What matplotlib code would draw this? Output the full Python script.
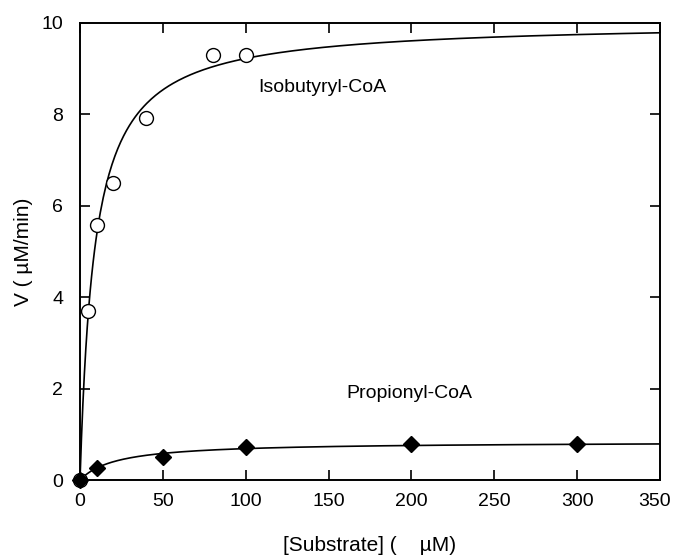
import numpy as np
import matplotlib
matplotlib.use('Agg')
import matplotlib.pyplot as plt
from matplotlib.transforms import ScaledTranslation

plt.rcParams['font.family'] = ['Liberation Sans', 'DejaVu Sans']

# measured rates
iso_s = [0, 5, 10, 20, 40, 80, 100]
iso_v = [0, 3.7, 5.58, 6.5, 7.92, 9.3, 9.3]
pro_s = [0, 10, 50, 100, 200, 300]
pro_v = [0, 0.26, 0.51, 0.73, 0.78, 0.79]

# Michaelis-Menten fit parameters (Vmax, Km)
iso_fit = (10.03, 8.74)
pro_fit = (0.84, 22.0)

xticks = [0, 50, 100, 150, 200, 250, 300, 350]
yticks = [0, 2, 4, 6, 8, 10]

fig = plt.figure(figsize=(6.74, 5.55), dpi=100)
ax = fig.add_axes([0.1187, 0.135, 0.8605, 0.8236])

s = np.linspace(0, 350, 400)
for vmax, km in (iso_fit, pro_fit):
    ax.plot(s, vmax * s / (km + s), color='black', lw=1.2)

ax.plot(iso_s, iso_v, 'o', mfc='white', mec='black', mew=1.0, ms=10,
        clip_on=False, zorder=3)
ax.plot(pro_s, pro_v, 'D', color='black', ms=8.5, clip_on=False, zorder=4)

ax.text(146, 8.58, 'Isobutyryl-CoA', ha='center', va='center', fontsize=14)
ax.text(199, 1.9, 'Propionyl-CoA', ha='center', va='center', fontsize=14)

ax.set_xlim(0, 350)
ax.set_ylim(0, 10)
ax.set_xticks(xticks)
ax.set_yticks(yticks)
ax.tick_params(direction='in', length=7, width=1.2, labelsize=14,
               top=True, right=True)
ax.tick_params(axis='x', pad=9)
ax.tick_params(axis='y', pad=12)
for sp in ax.spines.values():
    sp.set_linewidth(1.4)

# pull the last x label in so it stays inside the figure
last = ax.get_xticklabels()[-1]
last.set_transform(last.get_transform() +
                   ScaledTranslation(-4 / 72, 0, fig.dpi_scale_trans))

ax.set_xlabel('[Substrate] (    \u00b5M)', fontsize=15, labelpad=19)
ax.set_ylabel('V ( \u00b5M/min)', fontsize=15, labelpad=6)

fig.savefig('out.png', dpi=100)
